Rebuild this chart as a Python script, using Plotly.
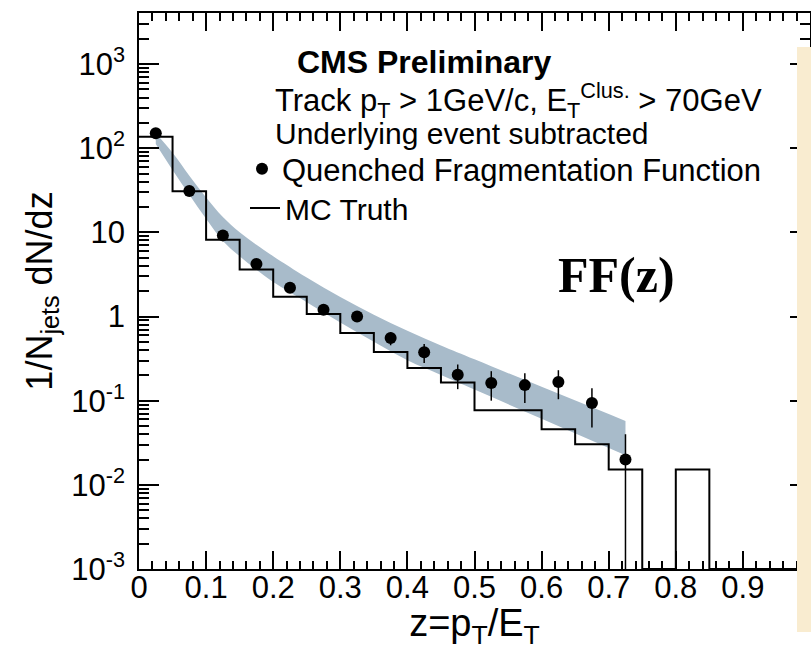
import plotly.graph_objects as go

# MC truth histogram: 1/N_jets dN/dz in bins of width 0.05 over 0 <= z <= 1
bin_edges = [0.00, 0.05, 0.10, 0.15, 0.20, 0.25, 0.30, 0.35, 0.40, 0.45, 0.50,
             0.55, 0.60, 0.65, 0.70, 0.75, 0.80, 0.85, 0.90, 0.95, 1.00]
mc_truth = [137, 30.7, 8.15, 3.62, 1.72, 1.07, 0.635, 0.378, 0.245, 0.164, 0.0769,
            0.0769, 0.0458, 0.0304, 0.0152, 0, 0.0152, 0, 0, 0]

# Quenched fragmentation function (bin centres) with statistical errors
z_points = [0.025, 0.075, 0.125, 0.175, 0.225, 0.275, 0.325, 0.375, 0.425,
            0.475, 0.525, 0.575, 0.625, 0.675, 0.725]
ff_values = [150, 31, 9.2, 4.2, 2.2, 1.2, 1.0, 0.555, 0.375, 0.203, 0.162,
             0.153, 0.167, 0.094, 0.020]
ff_errors = [3.0, 0.8, 0.25, 0.12, 0.07, 0.05, 0.07, 0.1, 0.095, 0.066, 0.062,
             0.059, 0.063, 0.046, 0.020]

# Systematic uncertainty band
band_z = [0.025, 0.05, 0.075, 0.10, 0.125, 0.15, 0.175, 0.20, 0.25, 0.30,
          0.35, 0.40, 0.45, 0.50, 0.60, 0.725]
band_upper = [150, 88, 47, 26, 15.2, 10.0, 7.1, 5.2, 2.9, 1.70, 1.05, 0.676,
              0.453, 0.31, 0.146, 0.0575]
band_lower = [112, 55, 28, 14.5, 7.9, 5.2, 3.6, 2.57, 1.48, 0.85, 0.50, 0.302,
              0.202, 0.1355, 0.0608, 0.0224]

# Axis ticks
x_tickvals = [0, 0.1, 0.2, 0.3, 0.4, 0.5, 0.6, 0.7, 0.8, 0.9]
x_ticktext = ["0", "0.1", "0.2", "0.3", "0.4", "0.5", "0.6", "0.7", "0.8", "0.9"]
y_tickvals = [1e-3, 1e-2, 1e-1, 1, 10, 100, 1000]
y_ticktext = ["10<sup>-3</sup>", "10<sup>-2</sup>", "10<sup>-1</sup>", "1", "10",
              "10<sup>2</sup>", "10<sup>3</sup>"]
y_minor = [m * 10.0 ** e for e in range(-3, 4) for m in range(2, 10)]

Y_RANGE = [-3, 3.606]
X_RANGE = [0, 1.0]
FONT = "Liberation Sans, Arial, Helvetica, sans-serif"
BAND_COLOR = "rgb(168,187,202)"

# Empty bins sit on the lower edge of the log axis
y_floor = 10 ** Y_RANGE[0]
mc_plot = [v if v > 0 else y_floor for v in mc_truth]
step_y = mc_plot + [mc_plot[-1]]

fig = go.Figure()

# Band: lower edge, then upper edge filled down to it
fig.add_trace(go.Scatter(
    x=band_z, y=band_lower, mode="lines",
    line=dict(width=0, color=BAND_COLOR, shape="spline", smoothing=1),
    hoverinfo="skip", showlegend=False,
))
fig.add_trace(go.Scatter(
    x=band_z, y=band_upper, mode="lines", fill="tonexty", fillcolor=BAND_COLOR,
    line=dict(width=0, color=BAND_COLOR, shape="spline", smoothing=1),
    hoverinfo="skip", showlegend=False,
))

fig.add_trace(go.Scatter(
    x=bin_edges, y=step_y, mode="lines", name="MC Truth",
    line=dict(color="black", width=2, shape="hv"),
    legend="legend2",
))

fig.add_trace(go.Scatter(
    x=z_points, y=ff_values, mode="markers",
    name="Quenched Fragmentation Function",
    marker=dict(color="black", size=12, symbol="circle"),
    error_y=dict(type="data", array=ff_errors, color="black", thickness=1.5, width=0),
    legend="legend",
))

axis_common = dict(
    showline=True, linecolor="black", linewidth=1.5, mirror="ticks",
    ticks="inside", tickcolor="black", tickwidth=1.5,
    showgrid=False, zeroline=False,
    tickfont=dict(family=FONT, size=31, color="black"),
)

fig.update_xaxes(
    range=X_RANGE, tickmode="array", tickvals=x_tickvals, ticktext=x_ticktext,
    ticklen=18, ticklabelstandoff=-10,
    minor=dict(ticks="inside", ticklen=8, tickwidth=1.5, tickcolor="black",
               dtick=0.02, tick0=0, showgrid=False),
    title=dict(text="z=p<sub>T</sub>/E<sub>T</sub>",
               font=dict(family=FONT, size=38, color="black"), standoff=0),
    **axis_common,
)

fig.update_yaxes(
    type="log", range=Y_RANGE, tickmode="array", tickvals=y_tickvals,
    ticktext=y_ticktext, ticklen=20, ticklabelstandoff=6,
    minor=dict(ticks="inside", ticklen=10, tickwidth=1.5, tickcolor="black",
               tickvals=y_minor, showgrid=False),
    title=dict(text="1/N<sub>jets</sub> dN/dz",
               font=dict(family=FONT, size=36, color="black"), standoff=8),
    **axis_common,
)

PLOT_L, PLOT_T, PLOT_W, PLOT_H = 139, 13, 671, 556


def px_x(px):
    return (px - PLOT_L) / PLOT_W


def px_y(py):
    return (PLOT_T + PLOT_H - py) / PLOT_H


text_font = dict(family=FONT, size=30, color="black")
annotations = [
    dict(text="<b>CMS Preliminary</b>", x=px_x(295), y=px_y(62),
         font=dict(family=FONT, size=32, color="black")),
    dict(text="Track p<sub>T</sub> > 1GeV/c, E<sub>T</sub><sup>Clus.</sup> > 70GeV",
         x=px_x(273), y=px_y(100), font=dict(family=FONT, size=31, color="black")),
    dict(text="Underlying event subtracted", x=px_x(273), y=px_y(133), font=text_font),
    dict(text="<b>FF(z)</b>", x=px_x(556), y=px_y(275),
         font=dict(family="Liberation Serif, Times New Roman, serif", size=50, color="black")),
]
for a in annotations:
    a.update(xref="paper", yref="paper", xanchor="left", yanchor="middle",
             showarrow=False)

fig.update_layout(
    width=811, height=650,
    margin=dict(l=PLOT_L, r=811 - PLOT_L - PLOT_W, t=PLOT_T, b=650 - PLOT_T - PLOT_H,
                autoexpand=False),
    paper_bgcolor="white", plot_bgcolor="white",
    annotations=annotations,
    legend=dict(x=px_x(242), y=px_y(169), xanchor="left", yanchor="middle",
                bgcolor="rgba(0,0,0,0)", font=dict(family=FONT, size=31, color="black"),
                itemwidth=30),
    legend2=dict(x=px_x(245), y=px_y(208), xanchor="left", yanchor="middle",
                 bgcolor="rgba(0,0,0,0)", font=text_font, itemwidth=30),
    shapes=[
        dict(type="rect", xref="paper", yref="paper", layer="above",
             x0=px_x(797), x1=px_x(812), y0=px_y(632), y1=px_y(47),
             fillcolor="rgb(249,236,208)", line=dict(width=0)),
    ],
)

fig.write_html("out.html")
